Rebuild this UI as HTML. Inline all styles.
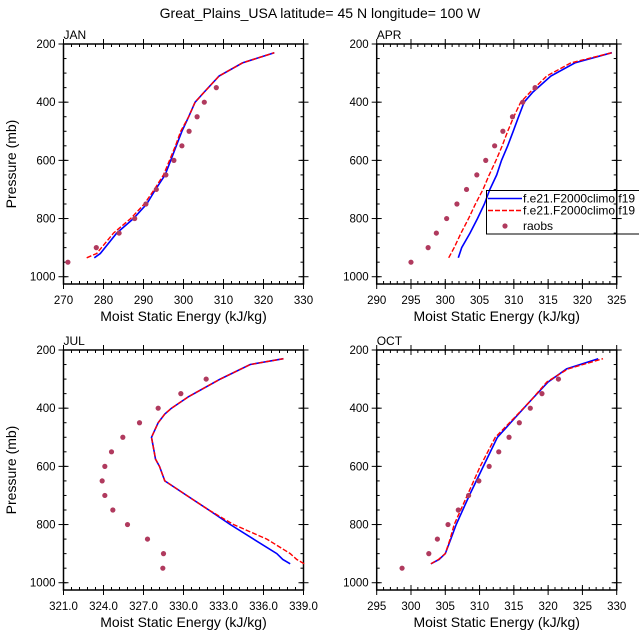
<!DOCTYPE html>
<html><head><meta charset="utf-8"><style>
html,body{margin:0;padding:0;background:#fff}
svg text{font-family:"Liberation Sans",Arial,sans-serif;fill:#000}
</style></head><body>
<svg id="chart" width="639" height="639" viewBox="0 0 639 639" xmlns="http://www.w3.org/2000/svg">
<text x="320" y="18" font-size="14" text-anchor="middle">Great_Plains_USA  latitude= 45 N longitude= 100 W</text>
</svg>
<script>
// Shared pressure levels
const obsP = [950,900,850,800,750,700,650,600,550,500,450,400,350,300];
// JAN
const janModelP = [935,920,850,800,750,700,650,600,550,500,450,400,365,310,265,230];
const janBlue = [277.7,279.2,283.3,287.5,290.8,293,295.4,296.8,298.2,299.6,301.3,302.9,305.2,308.9,314.75,322.7];
const janRed = [275.8,278.3,282.5,286.8,290.2,292.7,295,296.5,298,299.3,301.3,302.9,305.2,308.9,314.75,322.7];
const janObs = [271.1,278.2,283.9,287.8,290.6,293.2,295.6,297.6,299.6,301.4,303.4,305.2,308.2];
// APR
const aprModelP = [935,900,850,800,750,700,650,600,550,500,450,400,365,310,265,230];
const aprBlue = [301.9,302.4,303.6,304.7,305.7,306.5,307.5,308.2,309.1,309.9,310.7,311.5,312.8,315.4,318.9,324.3];
const aprRed = [300.5,301.3,302.3,303.4,304.4,305.5,306.4,307.4,308.3,309.1,310,311,312.4,314.8,318.3,324.3];
const aprObs = [295,297.5,298.7,300.2,301.7,303.1,304.6,305.9,307.2,308.4,309.8,311.3,313.1];
// JUL
const julModelP = [935,920,900,850,800,750,700,650,600,575,550,500,450,420,400,360,300,250,230];
const julBlue = [338,337.45,337.0,335.25,333.5,331.9,330.25,328.6,328.2,327.9,327.8,327.6,328.1,328.6,329.1,330.4,332.75,335,337.5];
const julRed = [339.05,338.5,338,336.25,333.75,331.9,330.25,328.6,328.2,327.9,327.8,327.6,328.1,328.6,329.1,330.4,332.75,335,337.5];
const julObs = [328.45,328.5,327.3,325.8,324.7,324.1,323.9,324.1,324.6,325.45,326.7,328.1,329.8,331.7];
// OCT
const octModelP = [935,920,900,850,800,700,600,500,430,370,310,265,230];
const octBlue = [302.9,304.1,305,305.8,306.6,308.5,310.55,312.6,315.3,317.6,320,322.7,327.3];
const octRed = [302.9,304,305,305.7,306.3,308.2,310.1,312.3,315.2,317.6,319.8,322.9,328];
const octObs = [298.7,302.6,303.85,305.4,306.9,308.4,309.9,311.4,312.8,314.3,315.8,317.4,319.1,321.5];
// Axis tick labels
const janTicks = ["270","280","290","300","310","320","330"];
const aprTicks = ["290","295","300","305","310","315","320","325"];
const julTicks = ["321.0","324.0","327.0","330.0","333.0","336.0","339.0"];
const octTicks = ["295","300","305","310","315","320","325","330"];
const yTicks = ["200","400","600","800","1000"];

const NS="http://www.w3.org/2000/svg";
const svg=document.getElementById('chart');
function mk(tag,attrs,parent){const e=document.createElementNS(NS,tag);for(const k in attrs)e.setAttribute(k,attrs[k]);(parent||svg).appendChild(e);return e;}

const panels=[
 {name:'jan',label:'JAN',L:63.5,T:44,xmin:270,xmax:330,minor:2,ticks:janTicks,mp:janModelP,blue:janBlue,red:janRed,obs:janObs,ylab:true},
 {name:'apr',label:'APR',L:376.7,T:44,xmin:290,xmax:325,minor:1,ticks:aprTicks,mp:aprModelP,blue:aprBlue,red:aprRed,obs:aprObs,ylab:false},
 {name:'jul',label:'JUL',L:63.5,T:350,xmin:321,xmax:339,minor:0.6,ticks:julTicks,mp:julModelP,blue:julBlue,red:julRed,obs:julObs,ylab:true},
 {name:'oct',label:'OCT',L:376.7,T:350,xmin:295,xmax:330,minor:1,ticks:octTicks,mp:octModelP,blue:octBlue,red:octRed,obs:octObs,ylab:false}
];
const W=240,H=240,PMIN=200,PMAX=1025;

panels.forEach(p=>{
 const g=mk('g',{});
 
 
 const xs=v=>p.L+(v-p.xmin)/(p.xmax-p.xmin)*W;
 const ys=v=>p.T+(v-PMIN)/(PMAX-PMIN)*H;
 const B=p.T+H,R=p.L+W;
 // minor x ticks
 const n=Math.round((p.xmax-p.xmin)/p.minor);
 for(let i=0;i<=n;i++){const x=xs(p.xmin+i*p.minor);
  mk('line',{x1:x,x2:x,y1:B,y2:B-3,stroke:'#000','stroke-width':1},g);
  mk('line',{x1:x,x2:x,y1:p.T,y2:p.T+3,stroke:'#000','stroke-width':1},g);}
 // major x ticks + labels
 const step=(p.xmax-p.xmin)/(p.ticks.length-1);
 p.ticks.forEach((t,i)=>{const x=xs(p.xmin+i*step);
  mk('line',{x1:x,x2:x,y1:B+5,y2:B-5,stroke:'#000','stroke-width':1},g);
  mk('line',{x1:x,x2:x,y1:p.T-5,y2:p.T+5,stroke:'#000','stroke-width':1},g);
  const tx=mk('text',{x:x,y:B+20,'font-size':11.5,'text-anchor':'middle'},g);tx.textContent=t;
  
  });
 // y ticks
 for(let v=250;v<=1000;v+=50){const y=ys(v);
  mk('line',{x1:p.L,x2:p.L+3,y1:y,y2:y,stroke:'#000','stroke-width':1},g);
  mk('line',{x1:R,x2:R-3,y1:y,y2:y,stroke:'#000','stroke-width':1},g);}
 yTicks.forEach(t=>{const y=ys(+t);
  mk('line',{x1:p.L-5,x2:p.L+5,y1:y,y2:y,stroke:'#000','stroke-width':1},g);
  mk('line',{x1:R-5,x2:R+5,y1:y,y2:y,stroke:'#000','stroke-width':1},g);
  const tx=mk('text',{x:p.L-8,y:y+4,'font-size':11.5,'text-anchor':'end'},g);tx.textContent=t;
  
  });
 // frame
 const fr=mk('rect',{x:p.L,y:p.T,width:W,height:H,fill:'none',stroke:'#000','stroke-width':1.5},g);
 
 
 // labels
 const lb=mk('text',{x:p.L,y:p.T-5,'font-size':12},g);lb.textContent=p.label;
 
 
 const xt=mk('text',{x:p.L+W/2,y:B+37,'font-size':14,'text-anchor':'middle'},g);xt.textContent='Moist Static Energy (kJ/kg)';
 
 
 if(p.ylab){const yt=mk('text',{x:0,y:0,'font-size':14,'text-anchor':'middle',transform:`translate(16,${p.T+H/2}) rotate(-90)`},g);yt.textContent='Pressure (mb)';
  
  }
 // series
 const pts=(vals,ps)=>vals.map((v,i)=>xs(v).toFixed(1)+','+ys(ps[i]).toFixed(1)).join(' ');
 const bl=mk('polyline',{points:pts(p.blue,p.mp),fill:'none',stroke:'#0000ff','stroke-width':1.6},g);
 
 
 const rd=mk('polyline',{points:pts(p.red,p.mp),fill:'none',stroke:'#ff0000','stroke-width':1.4,'stroke-dasharray':'5,2'},g);
 
 
 p.obs.forEach((v,i)=>{const c=mk('circle',{cx:xs(v),cy:ys(obsP[i]),r:2.6,fill:'#b03a5e'},g);
  
  });
});

// legend
const lg=mk('g',{});


mk('rect',{x:486.5,y:190.5,width:160,height:43.5,fill:'none',stroke:'#000','stroke-width':1},lg);
const e1=mk('line',{x1:488,x2:522,y1:198.5,y2:198.5,stroke:'#0000ff','stroke-width':1.6},lg);


const e2=mk('line',{x1:488,x2:522,y1:210.5,y2:210.5,stroke:'#ff0000','stroke-width':1.4,'stroke-dasharray':'5,2'},lg);


const e3=mk('circle',{cx:505,cy:226,r:2.6,fill:'#b03a5e'},lg);


[['f.e21.F2000climo.f19',202.5],['f.e21.F2000climo.f19',214.5],['raobs',230]].forEach(a=>{
 const t=mk('text',{x:523,y:a[1],'font-size':12},lg);t.textContent=a[0];
 
 });
</script>
</body></html>
